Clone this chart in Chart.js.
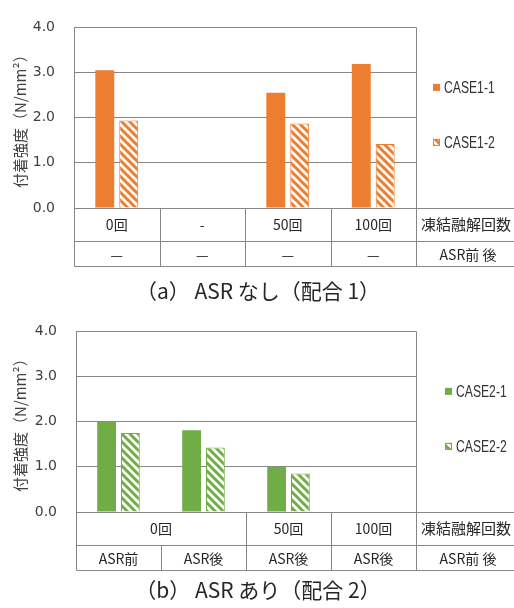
<!DOCTYPE html>
<html>
<head>
<meta charset="utf-8">
<script src="https://cdn.jsdelivr.net/npm/chart.js@4.4.0/dist/chart.umd.min.js"></script>
<style>
  body { margin: 0; background: #fff; }
  canvas { display: block; }
</style>
</head>
<body>
<canvas id="chart-a" width="514" height="304"></canvas>
<canvas id="chart-b" width="514" height="304"></canvas>
<script>
// (a) mix 1, no ASR
const cyclesA = ['0回', '-', '50回', '100回'];
const asrA = ['—', '—', '—', '—'];
const case1_1 = [3.05, null, 2.55, 3.19];
const case1_2 = [1.94, null, 1.87, 1.42];

// (b) mix 2, with ASR
const cyclesB = ['0回', '0回', '50回', '100回'];
const asrB = ['ASR前', 'ASR後', 'ASR後', 'ASR後'];
const case2_1 = [2.0, 1.81, 1.0, null];
const case2_2 = [1.75, 1.43, 0.85, null];

const rowHeads = ['凍結融解回数', 'ASR前 後'];
const yTicks = [0, 1, 2, 3, 4];
const yTitle = '付着強度（N/mm²）';
const titles = ['（a） ASR なし（配合 1）', '（b） ASR あり（配合 2）'];

const ORANGE = '#ED7D31';
const GREEN = '#70AD47';
const LINE = '#868686';
const JP = '"Noto Sans CJK JP", sans-serif';

// diagonal hatch fill
function makeHatch(color) {
  const s = 8;
  const c = document.createElement('canvas');
  c.width = s; c.height = s;
  const g = c.getContext('2d');
  g.fillStyle = '#fff';
  g.fillRect(0, 0, s, s);
  g.strokeStyle = color;
  g.lineWidth = 3;
  for (const o of [-s, 0, s]) {
    g.beginPath();
    g.moveTo(o - 2, -2);
    g.lineTo(o + s + 2, s + 2);
    g.stroke();
  }
  return g.createPattern(c, 'repeat');
}

// table under the axis, legend and caption
const tablePlugin = {
  id: 'table',
  afterDraw(chart, args, opts) {
    const { ctx, chartArea: a, scales: { x } } = chart;
    const W = chart.width;
    const r1 = a.bottom + 33, r2 = a.bottom + 58;
    const n = chart.data.labels.length;
    const half = (x.getPixelForValue(1) - x.getPixelForValue(0)) / 2;
    const px = v => Math.round(v) + 0.5;
    const line = (x1, y1, x2, y2) => {
      ctx.beginPath();
      ctx.moveTo(px(x1), px(y1));
      ctx.lineTo(px(x2), px(y2));
      ctx.stroke();
    };

    ctx.save();
    ctx.strokeStyle = LINE;
    ctx.lineWidth = 1;
    line(a.left, a.top, a.right, a.top);
    [a.bottom, r1, r2].forEach(y => line(a.left, y, W, y));
    line(a.left, a.top, a.left, r2);
    line(a.right, a.top, a.right, r2);
    for (let i = 1; i < n; i++) {
      const bx = x.getPixelForValue(i) - half;
      line(bx, opts.top[i] === opts.top[i - 1] ? r1 : a.bottom, bx, r2);
    }

    ctx.fillStyle = '#262626';
    ctx.textAlign = 'center';
    ctx.textBaseline = 'middle';
    ctx.font = '14px ' + JP;
    let i = 0;
    while (i < n) {
      let j = i;
      while (j + 1 < n && opts.top[j + 1] === opts.top[i]) j++;
      const cx = (x.getPixelForValue(i) + x.getPixelForValue(j)) / 2;
      ctx.fillText(opts.top[i], cx, (a.bottom + r1) / 2);
      i = j + 1;
    }
    opts.bottom.forEach((t, k) => ctx.fillText(t, x.getPixelForValue(k), (r1 + r2) / 2 + 1));

    ctx.font = '15px ' + JP;
    ctx.fillText(rowHeads[0], (a.right + W) / 2 + 1, (a.bottom + r1) / 2);
    ctx.font = '14px ' + JP;
    ctx.fillText(rowHeads[1], (a.right + W) / 2 + 3, (r1 + r2) / 2 + 1);

    // legend (narrowed text)
    ctx.textAlign = 'left';
    ctx.font = '16px "Liberation Sans", sans-serif';
    chart.data.datasets.forEach((ds, k) => {
      const lx = a.right + opts.legendX;
      const ly = a.top + 60 + 55 * k;
      ctx.fillStyle = ds.backgroundColor;
      ctx.fillRect(lx, ly - 3.5, 7, 7);
      if (ds.borderWidth) {
        ctx.strokeStyle = ds.borderColor;
        ctx.strokeRect(lx + 0.5, ly - 3, 6, 6);
      }
      ctx.save();
      ctx.translate(lx + 11, ly + 1);
      ctx.scale(0.76, 1);
      ctx.fillStyle = '#333';
      ctx.fillText(ds.label, 0, 0);
      ctx.restore();
    });

    // caption
    ctx.fillStyle = '#262626';
    ctx.textAlign = 'center';
    ctx.font = '21px ' + JP;
    ctx.fillText(opts.caption, W / 2 + 1, opts.captionY);
    ctx.restore();
  }
};

function buildChart(id, cfg) {
  const hatch = makeHatch(cfg.color);
  return new Chart(document.getElementById(id), {
    type: 'bar',
    data: {
      labels: cfg.cycles.map((c, i) => [c, cfg.asr[i]]),
      datasets: [{
        label: cfg.names[0],
        data: cfg.s1,
        backgroundColor: cfg.color,
        borderWidth: 0,
        categoryPercentage: 0.56,
        barPercentage: 0.79
      }, {
        label: cfg.names[1],
        data: cfg.s2,
        backgroundColor: hatch,
        borderColor: cfg.color,
        borderWidth: 1,
        categoryPercentage: 0.56,
        barPercentage: 0.79
      }]
    },
    options: {
      responsive: false,
      animation: false,
      layout: { padding: { top: cfg.top, right: 98, left: 0, bottom: 0 } },
      plugins: {
        legend: { display: false },
        tooltip: { enabled: false },
        table: {
          top: cfg.cycles,
          bottom: cfg.asr,
          legendX: cfg.legendX,
          caption: cfg.caption,
          captionY: cfg.captionY
        }
      },
      scales: {
        x: {
          grid: { display: false },
          border: { display: false },
          ticks: { display: false },
          afterFit: s => { s.height = 96; }
        },
        y: {
          min: yTicks[0],
          max: yTicks[yTicks.length - 1],
          afterBuildTicks: s => { s.ticks = yTicks.map(v => ({ value: v })); },
          grid: { color: LINE, drawTicks: false },
          border: { display: false },
          ticks: {
            padding: 19,
            color: '#404040',
            font: { family: '"DejaVu Sans", sans-serif', size: 14 },
            callback: v => v.toFixed(1)
          },
          title: {
            display: true,
            text: yTitle,
            color: '#404040',
            font: { family: JP, size: 15 },
            padding: { top: 11 }
          },
          afterFit: s => { s.width = cfg.left; }
        }
      }
    },
    plugins: [tablePlugin]
  });
}

buildChart('chart-a', {
  cycles: cyclesA, asr: asrA, s1: case1_1, s2: case1_2,
  names: ['CASE1-1', 'CASE1-2'], color: ORANGE,
  top: 17, left: 74, legendX: 17,
  caption: titles[0], captionY: 291
});

buildChart('chart-b', {
  cycles: cyclesB, asr: asrB, s1: case2_1, s2: case2_2,
  names: ['CASE2-1', 'CASE2-2'], color: GREEN,
  top: 15, left: 76, legendX: 29,
  caption: titles[1], captionY: 286
});
</script>
</body>
</html>
